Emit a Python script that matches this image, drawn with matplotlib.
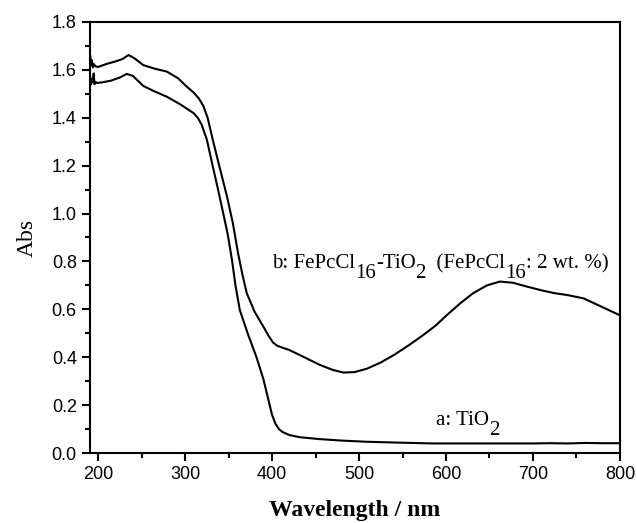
import matplotlib
matplotlib.use("Agg")
import matplotlib.pyplot as plt
from matplotlib.ticker import MultipleLocator, FormatStrFormatter
from matplotlib.transforms import IdentityTransform

# Curve a: TiO2
wl_a = [190, 191, 192, 193, 194, 195, 196, 197, 199, 205, 215, 225, 233, 240,
        252, 265, 279, 295, 310, 315, 319, 325, 332, 338, 344, 349, 354, 358,
        363, 372, 382, 390, 396, 400, 404, 408, 412, 420, 432, 455, 480, 509,
        550, 585, 650, 700, 720, 740, 760, 780, 800]
abs_a = [1.55, 1.57, 1.54, 1.56, 1.55, 1.585, 1.54, 1.55, 1.545, 1.548, 1.555,
         1.568, 1.583, 1.575, 1.533, 1.51, 1.488, 1.455, 1.419, 1.398, 1.372,
         1.31, 1.196, 1.10, 1.00, 0.915, 0.806, 0.70, 0.597, 0.50, 0.402, 0.31,
         0.22, 0.16, 0.122, 0.100, 0.088, 0.075, 0.066, 0.058, 0.052, 0.047,
         0.043, 0.040, 0.040, 0.040, 0.041, 0.040, 0.042, 0.041, 0.041]

# Curve b: FePcCl16-TiO2
wl_b = [190, 191, 192, 193, 194, 195, 197, 200, 210, 220, 228, 235, 242, 252,
        265, 279, 292, 302, 310, 316, 321, 326, 332, 340, 348, 355, 361, 366,
        371, 380, 390, 396, 401, 406, 412, 420, 432, 455, 470, 482, 495, 509,
        525, 540, 558, 574, 588, 601, 616, 631, 647, 662, 677, 692, 708, 724,
        739, 758, 777, 790, 800]
abs_b = [1.63, 1.66, 1.62, 1.64, 1.61, 1.625, 1.615, 1.612, 1.625, 1.635, 1.645,
         1.662, 1.648, 1.62, 1.605, 1.593, 1.565, 1.53, 1.505, 1.48, 1.45,
         1.40, 1.307, 1.19, 1.075, 0.96, 0.834, 0.745, 0.667, 0.59, 0.528,
         0.49, 0.462, 0.448, 0.440, 0.430, 0.409, 0.368, 0.347, 0.336, 0.338,
         0.352, 0.378, 0.409, 0.452, 0.493, 0.532, 0.576, 0.624, 0.667, 0.700,
         0.716, 0.711, 0.696, 0.681, 0.668, 0.660, 0.646, 0.614, 0.592, 0.575]

# label segments: (text, is_subscript)
label_a = [("a: TiO", False), ("2", True)]
label_b = [("b: FePcCl", False), ("16", True), ("-TiO", False), ("2", True),
           ("  (FePcCl", False), ("16", True), (": 2 wt. %)", False)]

fig = plt.figure(figsize=(6.37, 5.23), dpi=100)
ax = fig.add_axes([0.1413, 0.1338, 0.832, 0.8242])

ax.plot(wl_a, abs_a, color='black', lw=1.5)
ax.plot(wl_b, abs_b, color='black', lw=1.5)

ax.set_xlim(190.8, 800)
ax.set_ylim(0, 1.8)
ax.xaxis.set_major_locator(MultipleLocator(100))
ax.xaxis.set_minor_locator(MultipleLocator(50))
ax.yaxis.set_major_locator(MultipleLocator(0.2))
ax.yaxis.set_minor_locator(MultipleLocator(0.1))
ax.yaxis.set_major_formatter(FormatStrFormatter('%.1f'))

for s in ax.spines.values():
    s.set_linewidth(1.5)
ax.tick_params(which='major', direction='out', length=6, width=1.5,
               labelsize=13, top=False, right=False)
ax.tick_params(which='minor', direction='out', length=3.5, width=1.5,
               top=False, right=False)
for lab in ax.get_xticklabels() + ax.get_yticklabels():
    lab.set_fontfamily('Liberation Sans')

ax.set_xlabel('Wavelength / nm', fontfamily='Liberation Serif', fontsize=17,
              fontweight='bold', labelpad=12)
ax.set_ylabel('Abs', fontfamily='Liberation Serif', fontsize=17, labelpad=10)


def rich_text(x, y, segments, size=15, drop=10):
    renderer = fig.canvas.get_renderer()
    px, py = ax.transData.transform((x, y))
    for txt, sub in segments:
        t = fig.text(px, py - (drop if sub else 0), txt,
                     transform=IdentityTransform(),
                     fontfamily='Liberation Serif', fontsize=size,
                     ha='left', va='baseline')
        ext = t.get_window_extent(renderer)
        px += ext.width


rich_text(190.8 + (272 - 90) / 0.87, 0.771, label_b)
rich_text(190.8 + (436 - 90) / 0.87, 0.115, label_a)

fig.savefig('out.png', dpi=100)
